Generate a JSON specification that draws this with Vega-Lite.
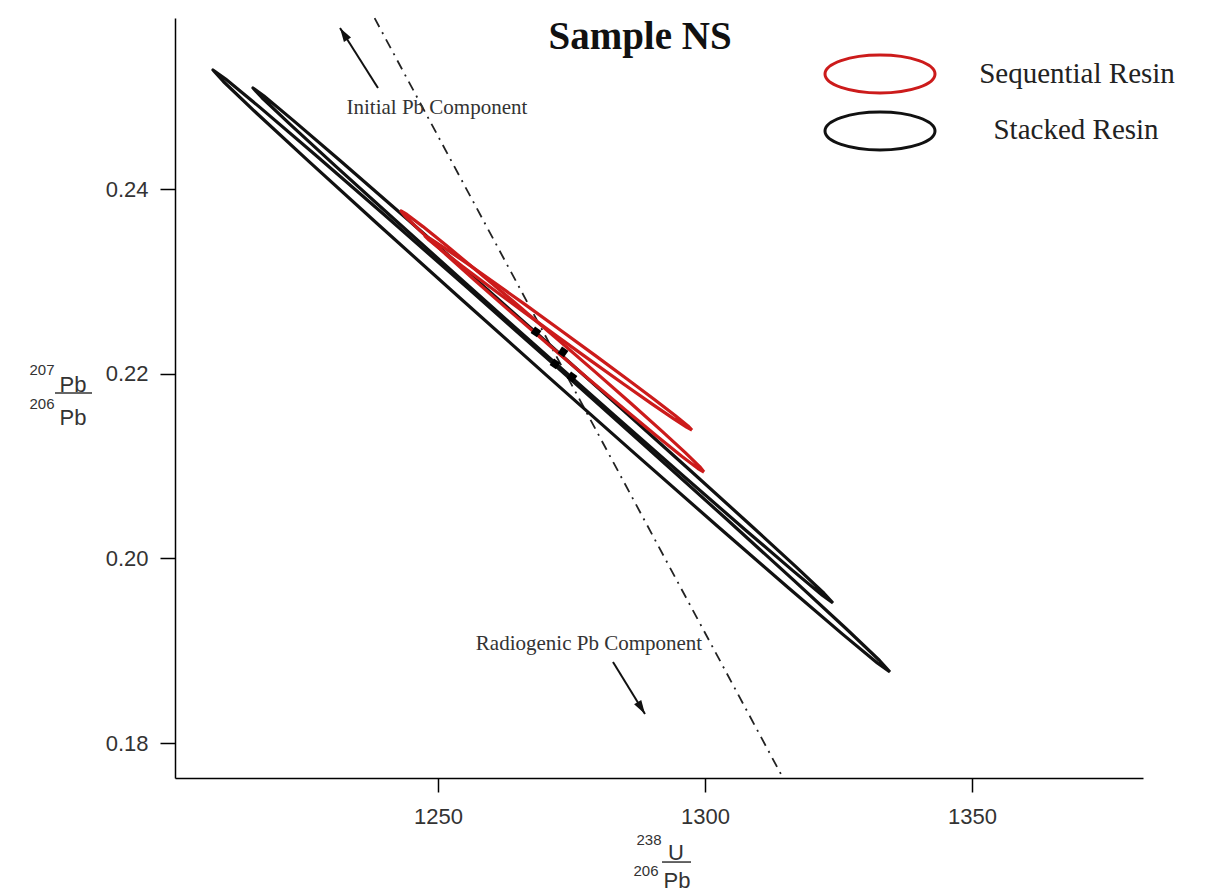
{
  "$schema": "https://vega.github.io/schema/vega-lite/v6.json",
  "width": 968,
  "height": 760,
  "autosize": "none",
  "padding": {"left": 175, "top": 18, "right": 69, "bottom": 118},
  "background": "white",
  "config": {"view": {"stroke": null}},
  "datasets": {
    "black": [
      {"e":"E1","i":0,"x":1334.64,"y":0.187688},{"e":"E1","i":1,"x":1332.69,"y":0.188936},{"e":"E1","i":2,"x":1326.55,"y":0.192319},{"e":"E1","i":3,"x":1316.64,"y":0.197609},{"e":"E1","i":4,"x":1303.65,"y":0.204444},{"e":"E1","i":5,"x":1288.44,"y":0.212359},{"e":"E1","i":6,"x":1272.06,"y":0.220814},{"e":"E1","i":7,"x":1255.63,"y":0.229233},{"e":"E1","i":8,"x":1240.26,"y":0.237044},{"e":"E1","i":9,"x":1227.0,"y":0.243711},{"e":"E1","i":10,"x":1216.76,"y":0.248783},{"e":"E1","i":11,"x":1210.23,"y":0.251912},{"e":"E1","i":12,"x":1207.86,"y":0.252888},{"e":"E1","i":13,"x":1209.81,"y":0.25164},{"e":"E1","i":14,"x":1215.95,"y":0.248257},{"e":"E1","i":15,"x":1225.86,"y":0.242967},{"e":"E1","i":16,"x":1238.85,"y":0.236132},{"e":"E1","i":17,"x":1254.06,"y":0.228217},{"e":"E1","i":18,"x":1270.44,"y":0.219762},{"e":"E1","i":19,"x":1286.87,"y":0.211343},{"e":"E1","i":20,"x":1302.24,"y":0.203532},{"e":"E1","i":21,"x":1315.5,"y":0.196865},{"e":"E1","i":22,"x":1325.75,"y":0.191793},{"e":"E1","i":23,"x":1332.27,"y":0.188664},{"e":"E1","i":24,"x":1334.64,"y":0.187688},
      {"e":"E2","i":0,"x":1323.97,"y":0.195161},{"e":"E2","i":1,"x":1322.28,"y":0.196217},{"e":"E2","i":2,"x":1317.0,"y":0.199101},{"e":"E2","i":3,"x":1308.5,"y":0.203616},{"e":"E2","i":4,"x":1297.35,"y":0.209456},{"e":"E2","i":5,"x":1284.32,"y":0.216223},{"e":"E2","i":6,"x":1270.28,"y":0.223455},{"e":"E2","i":7,"x":1256.21,"y":0.230659},{"e":"E2","i":8,"x":1243.04,"y":0.237346},{"e":"E2","i":9,"x":1231.7,"y":0.243056},{"e":"E2","i":10,"x":1222.94,"y":0.247405},{"e":"E2","i":11,"x":1217.36,"y":0.250093},{"e":"E2","i":12,"x":1215.35,"y":0.250939},{"e":"E2","i":13,"x":1217.04,"y":0.249883},{"e":"E2","i":14,"x":1222.32,"y":0.246999},{"e":"E2","i":15,"x":1230.82,"y":0.242484},{"e":"E2","i":16,"x":1241.97,"y":0.236644},{"e":"E2","i":17,"x":1255.0,"y":0.229877},{"e":"E2","i":18,"x":1269.04,"y":0.222645},{"e":"E2","i":19,"x":1283.11,"y":0.215441},{"e":"E2","i":20,"x":1296.28,"y":0.208754},{"e":"E2","i":21,"x":1307.62,"y":0.203044},{"e":"E2","i":22,"x":1316.38,"y":0.198695},{"e":"E2","i":23,"x":1321.96,"y":0.196007},{"e":"E2","i":24,"x":1323.97,"y":0.195161}
    ],
    "red": [
      {"e":"R1","i":0,"x":1299.81,"y":0.209349},{"e":"R1","i":1,"x":1299.0,"y":0.209937},{"e":"R1","i":2,"x":1296.31,"y":0.211448},{"e":"R1","i":3,"x":1291.93,"y":0.213779},{"e":"R1","i":4,"x":1286.16,"y":0.216771},{"e":"R1","i":5,"x":1279.37,"y":0.220221},{"e":"R1","i":6,"x":1272.05,"y":0.223893},{"e":"R1","i":7,"x":1264.69,"y":0.227537},{"e":"R1","i":8,"x":1257.78,"y":0.230905},{"e":"R1","i":9,"x":1251.81,"y":0.233767},{"e":"R1","i":10,"x":1247.18,"y":0.235928},{"e":"R1","i":11,"x":1244.19,"y":0.237241},{"e":"R1","i":12,"x":1243.07,"y":0.237617},{"e":"R1","i":13,"x":1243.88,"y":0.237029},{"e":"R1","i":14,"x":1246.57,"y":0.235518},{"e":"R1","i":15,"x":1250.95,"y":0.233187},{"e":"R1","i":16,"x":1256.73,"y":0.230195},{"e":"R1","i":17,"x":1263.51,"y":0.226745},{"e":"R1","i":18,"x":1270.83,"y":0.223073},{"e":"R1","i":19,"x":1278.19,"y":0.219429},{"e":"R1","i":20,"x":1285.1,"y":0.216061},{"e":"R1","i":21,"x":1291.07,"y":0.213199},{"e":"R1","i":22,"x":1295.7,"y":0.211038},{"e":"R1","i":23,"x":1298.69,"y":0.209725},{"e":"R1","i":24,"x":1299.81,"y":0.209349},
      {"e":"R2","i":0,"x":1297.57,"y":0.213898},{"e":"R2","i":1,"x":1296.82,"y":0.214335},{"e":"R2","i":2,"x":1294.41,"y":0.21546},{"e":"R2","i":3,"x":1290.52,"y":0.217192},{"e":"R2","i":4,"x":1285.4,"y":0.219417},{"e":"R2","i":5,"x":1279.41,"y":0.221982},{"e":"R2","i":6,"x":1272.96,"y":0.224711},{"e":"R2","i":7,"x":1266.47,"y":0.22742},{"e":"R2","i":8,"x":1260.4,"y":0.229923},{"e":"R2","i":9,"x":1255.17,"y":0.23205},{"e":"R2","i":10,"x":1251.11,"y":0.233656},{"e":"R2","i":11,"x":1248.52,"y":0.234631},{"e":"R2","i":12,"x":1247.57,"y":0.23491},{"e":"R2","i":13,"x":1248.32,"y":0.234473},{"e":"R2","i":14,"x":1250.73,"y":0.233348},{"e":"R2","i":15,"x":1254.62,"y":0.231616},{"e":"R2","i":16,"x":1259.74,"y":0.229391},{"e":"R2","i":17,"x":1265.73,"y":0.226826},{"e":"R2","i":18,"x":1272.18,"y":0.224097},{"e":"R2","i":19,"x":1278.67,"y":0.221388},{"e":"R2","i":20,"x":1284.74,"y":0.218885},{"e":"R2","i":21,"x":1289.98,"y":0.216758},{"e":"R2","i":22,"x":1294.03,"y":0.215152},{"e":"R2","i":23,"x":1296.62,"y":0.214177},{"e":"R2","i":24,"x":1297.57,"y":0.213898}
    ]
  },
  "encoding": {
    "x": {"field": "x", "type": "quantitative", "scale": {"domain": [1200.75, 1382.02], "nice": false, "zero": false},
      "axis": {"values": [1250, 1300, 1350], "format": "d", "title": null, "grid": false, "domainColor": "#000", "domainWidth": 1.5, "tickColor": "#000", "tickWidth": 1.5, "tickSize": 14, "labelFont": "Liberation Sans", "labelFontSize": 22, "labelColor": "#333", "labelPadding": 14}},
    "y": {"field": "y", "type": "quantitative", "scale": {"domain": [0.17621, 0.25852], "nice": false, "zero": false},
      "axis": {"values": [0.18, 0.2, 0.22, 0.24], "format": ".2f", "title": null, "grid": false, "domainColor": "#000", "domainWidth": 1.5, "tickColor": "#000", "tickWidth": 1.5, "tickSize": 15, "labelFont": "Liberation Sans", "labelFontSize": 22, "labelColor": "#333", "labelPadding": 12}}
  },
  "layer": [
    {"data": {"values": [{"x": 1238.13, "y": 0.2585, "x2": 1314.61, "y2": 0.17621}]},
     "mark": {"type": "rule", "stroke": "#222", "strokeWidth": 1.8, "strokeDash": [10, 6, 2, 6]},
     "encoding": {"x2": {"field": "x2"}, "y2": {"field": "y2"}}},
    {"data": {"name": "black"},
     "mark": {"type": "line", "stroke": "#111", "strokeWidth": 3.2, "strokeJoin": "round"},
     "encoding": {"detail": {"field": "e"}, "order": {"field": "i", "type": "quantitative"}}},
    {"data": {"name": "red"},
     "mark": {"type": "line", "stroke": "#cc1b1b", "strokeWidth": 3.2, "strokeJoin": "round"},
     "encoding": {"detail": {"field": "e"}, "order": {"field": "i", "type": "quantitative"}}},
    {"data": {"values": [{"x": 1268.35, "y": 0.22452}, {"x": 1273.41, "y": 0.22235}, {"x": 1271.91, "y": 0.22105}, {"x": 1275.09, "y": 0.21964}]},
     "mark": {"type": "point", "shape": "square", "filled": true, "color": "#000", "size": 60, "angle": 35, "opacity": 1}},
    {"data": {"values": [{"x": 1238.76, "y": 0.25094, "x2": 1231.65, "y2": 0.25743}, {"x": 1282.77, "y": 0.18878, "x2": 1288.76, "y2": 0.18315}]},
     "mark": {"type": "rule", "stroke": "#111", "strokeWidth": 2},
     "encoding": {"x2": {"field": "x2"}, "y2": {"field": "y2"}}},
    {"data": {"values": [{"x": 1232.35, "y": 0.256798}]},
     "mark": {"type": "point", "shape": "M0,-1L0.6,1L-0.6,1Z", "filled": true, "color": "#111", "size": 196, "angle": 327.7, "opacity": 1}},
    {"data": {"values": [{"x": 1288.08, "y": 0.183785}]},
     "mark": {"type": "point", "shape": "M0,-1L0.6,1L-0.6,1Z", "filled": true, "color": "#111", "size": 196, "angle": 148.4, "opacity": 1}},
    {"data": {"values": [{"x": 1332.77, "y": 0.252455}]},
     "mark": {"type": "point", "shape": "M-1,0A1,0.345,0,1,1,1,0A1,0.345,0,1,1,-1,0Z", "filled": false, "stroke": "#cc1b1b", "strokeWidth": 3, "size": 12100, "opacity": 1}},
    {"data": {"values": [{"x": 1332.77, "y": 0.246282}]},
     "mark": {"type": "point", "shape": "M-1,0A1,0.345,0,1,1,1,0A1,0.345,0,1,1,-1,0Z", "filled": false, "stroke": "#111", "strokeWidth": 3, "size": 12100, "opacity": 1}},
    {"data": {"values": [{"x": 1369.66, "y": 0.252455, "t": "Sequential Resin"}, {"x": 1369.48, "y": 0.24639, "t": "Stacked Resin"}]},
     "mark": {"type": "text", "font": "Liberation Serif", "fontSize": 29, "color": "#222", "align": "center", "baseline": "middle"},
     "encoding": {"text": {"field": "t"}}},
    {"data": {"values": [{"x": 1287.83, "y": 0.256463, "t": "Sample NS"}]},
     "mark": {"type": "text", "font": "Liberation Serif", "fontSize": 39, "fontWeight": "bold", "color": "#111", "align": "center", "baseline": "middle"},
     "encoding": {"text": {"field": "t"}}},
    {"data": {"values": [{"x": 1249.8, "y": 0.24877, "t": "Initial Pb Component"}, {"x": 1278.28, "y": 0.19073, "t": "Radiogenic Pb Component"}]},
     "mark": {"type": "text", "font": "Liberation Serif", "fontSize": 21, "color": "#333", "align": "center", "baseline": "middle"},
     "encoding": {"text": {"field": "t"}}},
    {"data": {"values": [{"x": 1175.84, "y": 0.220396, "t": "207"}, {"x": 1175.84, "y": 0.216714, "t": "206"}, {"x": 1289.51, "y": 0.169492, "t": "238"}, {"x": 1288.95, "y": 0.166135, "t": "206"}]},
     "mark": {"type": "text", "font": "Liberation Sans", "fontSize": 15, "color": "#333", "align": "center", "baseline": "middle"},
     "encoding": {"text": {"field": "t"}}},
    {"data": {"values": [{"x": 1181.65, "y": 0.218772, "t": "Pb"}, {"x": 1181.65, "y": 0.215197, "t": "Pb"}, {"x": 1294.57, "y": 0.168084, "t": "U"}, {"x": 1294.76, "y": 0.165052, "t": "Pb"}]},
     "mark": {"type": "text", "font": "Liberation Sans", "fontSize": 22, "color": "#333", "align": "center", "baseline": "middle"},
     "encoding": {"text": {"field": "t"}}},
    {"data": {"values": [{"x": 1178.28, "y": 0.217906, "x2": 1185.21, "y2": 0.217906}, {"x": 1291.95, "y": 0.167109, "x2": 1297.38, "y2": 0.167109}]},
     "mark": {"type": "rule", "stroke": "#333", "strokeWidth": 1.5},
     "encoding": {"x2": {"field": "x2"}, "y2": {"field": "y2"}}}
  ]
}
